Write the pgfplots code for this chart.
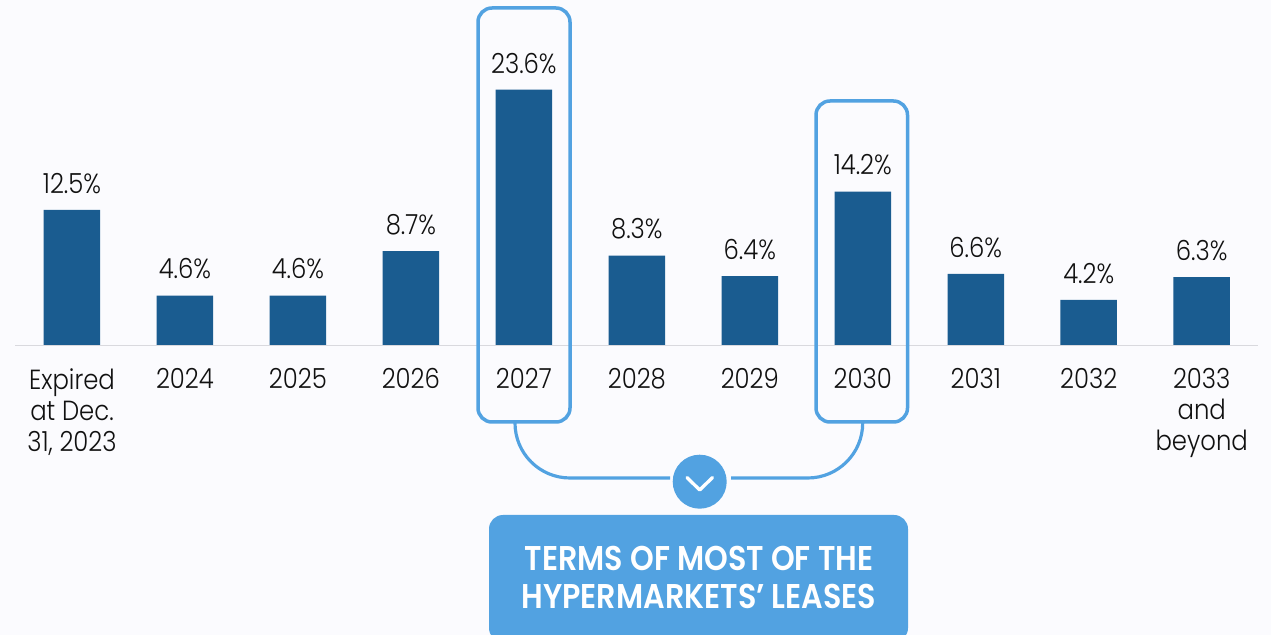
\documentclass[border=0pt]{standalone}
\usepackage{pgfplots}
\pgfplotsset{compat=1.18}
\usepackage{fontspec}
\setmainfont{Poppins}[FakeStretch=0.88,UprightFont=* Light,BoldFont=* SemiBold]
\definecolor{bg}{HTML}{FBFBFE}
\definecolor{barc}{HTML}{1A5C90}
\definecolor{lb}{HTML}{52A2E1}
\definecolor{axl}{HTML}{D9D9DE}
\definecolor{txt}{HTML}{111111}
\begin{document}
\begin{tikzpicture}
\fill[bg] (0,0) rectangle (762.6pt,381pt);
\begin{axis}[
  at={(0,0)},anchor=south west,
  scale only axis,width=762.6pt,height=381pt,
  xmin=-0.63717,xmax=10.61327,
  ymin=-26.707,ymax=31.873,
  axis x line*=middle,axis y line=none,
  x axis line style={draw=none},
  xtick={0,1,2,3,4,5,6,7,8,9,10},
  xticklabels={{Expired\\at Dec.\\31, 2023},2024,2025,2026,2027,2028,2029,2030,2031,2032,{2033\\and\\beyond}},
  xtick style={draw=none},
  major tick length=0pt,
  xticklabel style={font=\fontsize{16.6}{18.6}\selectfont,text=txt,align=center,anchor=north,yshift=-10.2pt},
  clip=false,
  ybar,bar width=33.9pt,
  /pgf/number format/assume math mode=true,
  /pgf/number format/fixed,/pgf/number format/fixed zerofill,/pgf/number format/precision=1,
  nodes near coords={\pgfmathprintnumber{\pgfplotspointmeta}\%},
  every node near coord/.style={font=\fontsize{16.6}{18}\selectfont,text=txt,anchor=base,yshift=10pt},
]
\addplot[fill=barc,draw=none] coordinates {(0,12.5)(1,4.6)(2,4.6)(3,8.7)(4,23.6)(5,8.3)(6,6.4)(7,14.2)(8,6.6)(9,4.2)(10,6.3)};
\end{axis}
\begin{scope}[x=0.6pt,y=-0.6pt,yshift=381pt]
\draw[axl,line width=0.7pt] (15,345.7) -- (1258,345.7);
\begin{scope}
\clip (0,0) rectangle (1271,635);
\fill[lb,rounded corners=8.4pt,overlay] (489,515) rectangle (908,642);
\end{scope}
\draw[lb,line width=2.1pt,rounded corners=8.4pt] (478,8) rectangle (570,422);
\draw[lb,line width=2.1pt,rounded corners=8.4pt] (816,101) rectangle (907.5,422);
\draw[lb,line width=1.9pt] (515,423) arc[start angle=180,end angle=90,radius=55] -- (670,478);
\draw[lb,line width=1.9pt] (862.7,423) arc[start angle=0,end angle=90,radius=55] -- (731,478);
\fill[lb] (699.7,481.7) circle[radius=27];
\draw[white,line width=2pt,line cap=round,line join=round] (687,477.5) -- (699.7,490) -- (712.5,477.5);
\node[white,font=\fontsize{20.6}{24}\selectfont\bfseries,align=center,anchor=base] at (699,571) {TERMS OF MOST OF THE};
\node[white,font=\fontsize{20.6}{24}\selectfont\bfseries,align=center,anchor=base] at (699,609) {HYPERMARKETS’ LEASES};
\end{scope}
\end{tikzpicture}
\end{document}
